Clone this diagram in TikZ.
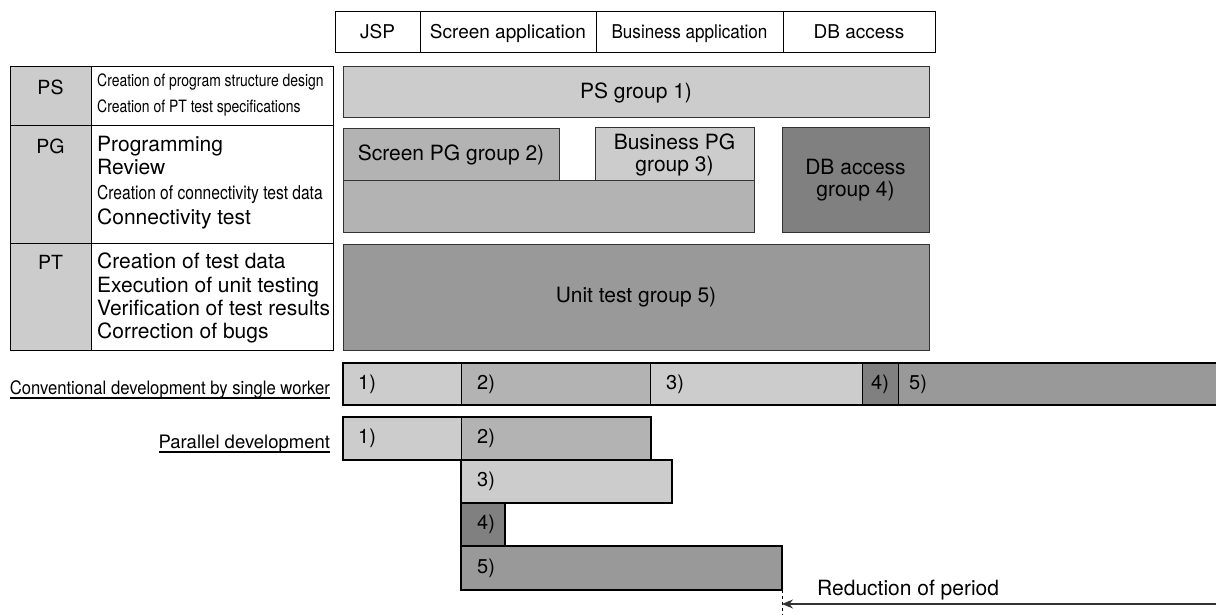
\documentclass[tikz,border=0pt]{standalone}
\usepackage{fontspec}
\setmainfont{TeX Gyre Heros}
\newfontfamily\narrowfont[FakeStretch=0.82]{TeX Gyre Heros}
\newfontfamily\semifont[FakeStretch=0.9]{TeX Gyre Heros}
\usepackage{tikz}
\usetikzlibrary{arrows.meta,positioning}

\definecolor{lightg}{HTML}{CCCCCC}
\definecolor{midg}{HTML}{B3B3B3}
\definecolor{darkg}{HTML}{999999}
\definecolor{deepg}{HTML}{808080}
\definecolor{edgeg}{HTML}{333333}

\tikzstyle{head} = [draw, line width=0.9pt, anchor=north west, inner sep=0pt, outer sep=0pt, minimum height=41pt, text height=17pt, text depth=2pt, font=\fontsize{19}{21}\selectfont]
\tikzstyle{cell} = [draw, line width=1pt, anchor=north west, inner sep=0pt, outer sep=0pt]
\tikzstyle{phaselbl} = [inner sep=0pt, outer sep=0pt, font=\fontsize{19.5}{21}\selectfont]
\tikzstyle{job} = [anchor=base west, inner sep=0pt, font=\fontsize{21}{23}\selectfont]
\tikzstyle{smalljob} = [anchor=base west, inner sep=0pt, font=\narrowfont\fontsize{19}{21}\selectfont]
\tikzstyle{group} = [draw=edgeg, line width=1pt, anchor=north west, inner sep=0pt, outer sep=0pt, align=center, font=\fontsize{21}{22}\selectfont]
\tikzstyle{seg} = [draw, line width=0.8pt, anchor=north west, inner sep=0pt, outer sep=0pt, minimum height=43pt]
\tikzstyle{rim} = [line width=2.4pt, line join=miter]
\tikzstyle{tag} = [anchor=west, inner sep=0pt, font=\fontsize{20}{21}\selectfont]
\tikzstyle{mode} = [anchor=base east, inner sep=0pt, outer sep=0pt, font=\semifont\fontsize{18.5}{20}\selectfont]

\begin{document}
\begin{tikzpicture}[x=1pt,y=-1pt]
\useasboundingbox (0,0) rectangle (1216,615);

% component columns
\node[head, minimum width=85pt] (jsp) at (335,11) {JSP};
\node[head, minimum width=176pt] (scrapp) at (jsp.north east) {Screen application};
\node[head, minimum width=187pt, font=\semifont\fontsize{19}{21}\selectfont] (bizapp) at (scrapp.north east) {Business application};
\node[head, minimum width=152pt] (dbacc) at (bizapp.north east) {DB access};

% phase table
\node[cell, fill=lightg, minimum width=81pt, minimum height=59pt] (psrow) at (10,67) {};
\node[cell, minimum width=242pt, minimum height=59pt] (psjobs) at (psrow.north east) {};
\node[cell, fill=lightg, minimum width=81pt, minimum height=117pt] (pgrow) at (psrow.south west) {};
\node[cell, minimum width=242pt, minimum height=117pt] (pgjobs) at (pgrow.north east) {};
\node[cell, fill=lightg, minimum width=81pt, minimum height=107pt] (ptrow) at (pgrow.south west) {};
\node[cell, minimum width=242pt, minimum height=107pt] (ptjobs) at (ptrow.north east) {};

\node[phaselbl, below=13pt of psrow.north] (pslbl) {PS};
\node[phaselbl, below=13pt of pgrow.north] (pglbl) {PG};
\node[phaselbl, below=12pt of ptrow.north] (ptlbl) {PT};

\node[smalljob, font=\narrowfont\fontsize{17}{19}\selectfont] (ps1) at (97,87) {Creation of program structure design};
\node[smalljob, font=\narrowfont\fontsize{17}{19}\selectfont] (ps2) at (97,113) {Creation of PT test specifications};

\node[job] (pg1) at (97,152) {Programming};
\node[job] (pg2) at (97,175) {Review};
\node[smalljob] (pg3) at (97,200) {Creation of connectivity test data};
\node[job] (pg4) at (97,224) {Connectivity test};

\foreach \txt/\yy [count=\i] in {Creation of test data/268, Execution of unit testing/292,
    Verification of test results/315, Correction of bugs/338}
  \node[job] (pt\i) at (97,\yy) {\txt};

% work groups
\node[group, fill=lightg, minimum width=586pt, minimum height=51pt] (grp1) at (343,67) {PS group 1)};
\node[group, fill=midg, minimum width=411pt, minimum height=51pt] (pgbase) at (343,181) {};
\node[group, fill=midg, minimum width=216pt, minimum height=52pt] (grp2) at (343,129) {Screen PG group 2)};
\node[group, fill=lightg, minimum width=159pt, minimum height=53pt] (grp3) at (595,128) {Business PG\\group 3)};
\node[group, fill=deepg, minimum width=147pt, minimum height=104pt] (grp4) at (782,128) {DB access\\group 4)};
\node[group, fill=darkg, minimum width=586pt, minimum height=106pt] (grp5) at (343,244) {Unit test group 5)};

% one worker, one after another
\foreach \xa/\xb/\col/\dx/\n in {343/461/lightg/15/1, 461/650/midg/16/2, 650/862/lightg/16/3,
    862/898/deepg/9/4, 898/1230/darkg/11/5} {
  \node[seg, fill=\col, minimum width={(\xb-\xa)*1pt}, minimum height=42pt] (c\n) at (\xa,363) {};
  \node[tag] (ct\n) at ([xshift=\dx pt]c\n.west) {\n)};
}
\draw[rim] (c5.north east) -- (c1.north west) -- (c1.south west) -- (c5.south east);

% groups working side by side
\node[seg, fill=lightg, minimum width=118pt] (p1) at (343,417) {};
\node[seg, fill=midg, minimum width=190pt] (p2) at (p1.north east) {};
\draw[rim] (p1.north west) rectangle (p2.south east);
\node[seg, rim, fill=lightg, minimum width=211pt] (p3) at (p2.south west) {};
\node[seg, rim, fill=deepg, minimum width=44pt] (p4) at (p3.south west) {};
\node[seg, rim, fill=darkg, minimum width=321pt, minimum height=44pt] (p5) at (p4.south west) {};
\node[tag] (pt1) at ([xshift=15pt]p1.west) {1)};
\foreach \n in {2,...,5}
  \node[tag] (ptag\n) at ([xshift=16pt]p\n.west) {\n)};

% row captions
\node[mode] (conv) at (330,394) {Conventional development by single worker};
\draw[line width=1.2pt] (conv.south west) -- (conv.south east);
\node[mode, font=\fontsize{18.5}{20}\selectfont] (para) at (330,448) {Parallel development};
\draw[line width=1.2pt] (para.south west) -- (para.south east);

% saved time
\coordinate (cut) at (782,604);
\coordinate (far) at (1216,604);
\draw[dashed, line width=0.8pt] (p5.south east) -- (782,615);
\draw[-{Stealth[length=11pt,width=9pt]}, line width=1.2pt, draw=edgeg] (far) -- (cut);
\node[job] (redu) at (817,595) {Reduction of period};
\end{tikzpicture}
\end{document}
